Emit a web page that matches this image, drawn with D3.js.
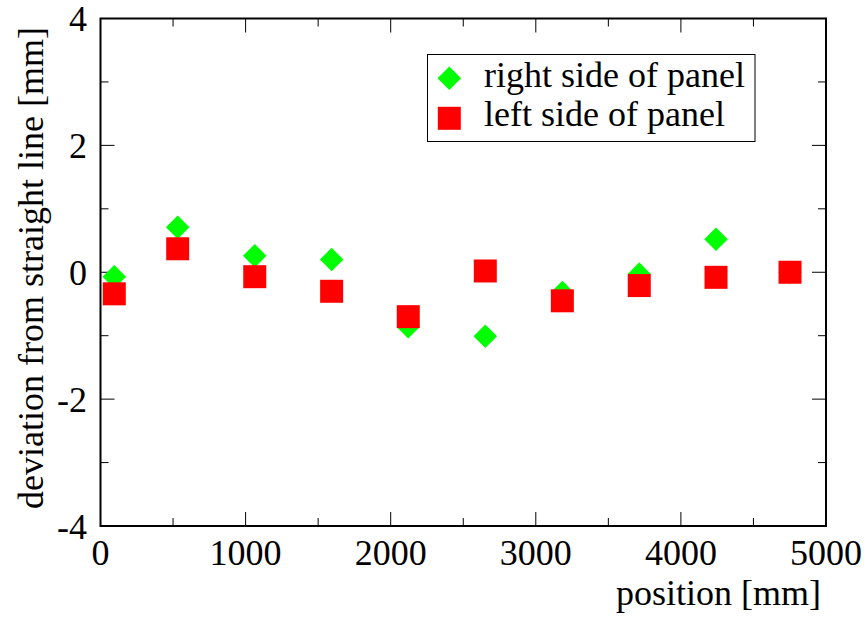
<!DOCTYPE html>
<html><head><meta charset="utf-8">
<script src="https://cdn.jsdelivr.net/npm/d3@7"></script>
<style>body{margin:0;background:#fff}svg{display:block}</style>
</head><body>
<svg id="c" width="867" height="619"></svg>
<script>
const positions = [95, 532, 1063, 1593, 2121, 2652, 3183, 3713, 4242, 4752];
const rightSide = [-0.07, 0.71, 0.26, 0.20, -0.86, -1.01, -0.32, -0.03, 0.52, 0.00];
const leftSide  = [-0.34, 0.37, -0.07, -0.30, -0.70, 0.02, -0.45, -0.21, -0.08, 0.00];
const xTicks = [0, 1000, 2000, 3000, 4000, 5000];
const yTicks = [-4, -2, 0, 2, 4];
const seriesNames = ["right side of panel", "left side of panel"];

const svg = d3.select("#c");
const L = 100.5, R = 826, T = 18.5, B = 526;
const x = d3.scaleLinear().domain([0, 5000]).range([L, R]);
const y = d3.scaleLinear().domain([-4, 4]).range([B, T]);
const font = "'Liberation Serif','Times New Roman',serif";
const fs = 36;

// ticks
const g = svg.append("g").attr("stroke", "#000").attr("stroke-width", 1);
const xMinor = d3.range(0, 5001, 500);
const yMinor = d3.range(-4, 4.01, 1);
xMinor.forEach(v => {
  const len = (v % 1000 === 0) ? 14 : 8;
  g.append("line").attr("x1", x(v)).attr("x2", x(v)).attr("y1", B).attr("y2", B - len);
  g.append("line").attr("x1", x(v)).attr("x2", x(v)).attr("y1", T).attr("y2", T + len);
});
yMinor.forEach(v => {
  const len = (v % 2 === 0) ? 14 : 8;
  g.append("line").attr("y1", y(v)).attr("y2", y(v)).attr("x1", L).attr("x2", L + len);
  g.append("line").attr("y1", y(v)).attr("y2", y(v)).attr("x1", R).attr("x2", R - len);
});
svg.append("rect").attr("x", L).attr("y", T).attr("width", R - L).attr("height", B - T)
  .attr("fill", "none").attr("stroke", "#000").attr("stroke-width", 2);

// tick labels
svg.append("g").selectAll("text").data(xTicks).join("text")
  .attr("x", d => x(d)).attr("y", 565).attr("text-anchor", "middle")
  .attr("font-family", font).attr("font-size", fs).text(d => d);
svg.append("g").selectAll("text").data(yTicks).join("text")
  .attr("x", 87).attr("y", d => y(d) + 12.5).attr("text-anchor", "end")
  .attr("font-family", font).attr("font-size", fs).text(d => d);

// axis titles
svg.append("text").attr("x", 821).attr("y", 605).attr("text-anchor", "end")
  .attr("font-family", font).attr("font-size", fs).text("position [mm]");
svg.append("text").attr("transform", "translate(43,268) rotate(-90)").attr("text-anchor", "middle")
  .attr("font-family", font).attr("font-size", fs).text("deviation from straight line [mm]");

// marks
const diamond = d3.symbol().type(d3.symbolDiamond2).size(2*13.3*13.3);
const plot = svg.append("g");
plot.selectAll("path.r").data(positions.map((p, i) => [p, rightSide[i]])).join("path")
  .attr("class", "r").attr("d", diamond)
  .attr("transform", d => `translate(${x(d[0])},${y(d[1])})`).attr("fill", "#00ff00");
plot.selectAll("rect.l").data(positions.map((p, i) => [p, leftSide[i]])).join("rect")
  .attr("class", "l").attr("x", d => x(d[0]) - 11.5).attr("y", d => y(d[1]) - 11.5)
  .attr("width", 23).attr("height", 23).attr("fill", "#ff0000");

// legend
svg.append("rect").attr("x", 427.5).attr("y", 54.5).attr("width", 327.5).attr("height", 87)
  .attr("fill", "#fff").attr("stroke", "#000").attr("stroke-width", 1);
svg.append("path").attr("d", diamond).attr("transform", "translate(449.3,78.3)").attr("fill", "#00ff00");
svg.append("rect").attr("x", 449.3 - 11.5).attr("y", 118.3 - 11.5).attr("width", 23).attr("height", 23).attr("fill", "#ff0000");
svg.append("text").attr("x", 484).attr("y", 87).attr("font-family", font).attr("font-size", fs).text(seriesNames[0]);
svg.append("text").attr("x", 484).attr("y", 126).attr("font-family", font).attr("font-size", fs).text(seriesNames[1]);
</script>
</body></html>
